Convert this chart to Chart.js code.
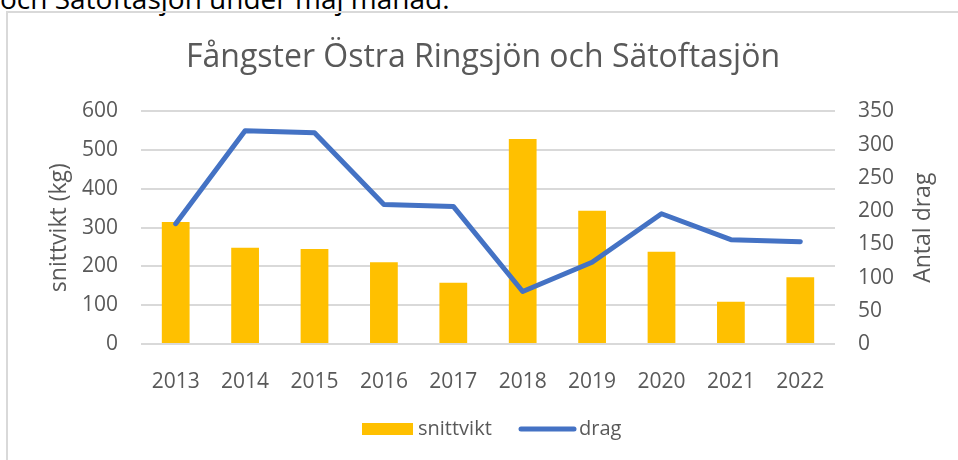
<!DOCTYPE html>
<html>
<head>
<meta charset="utf-8">
<script src="https://cdn.jsdelivr.net/npm/chart.js@4.4.1/dist/chart.umd.min.js"></script>
<style>
  body { margin: 0; background: #fff; width: 958px; height: 460px; overflow: hidden; position: relative; font-family: 'Open Sans', sans-serif; }
  #intro { position: absolute; left: 0; top: -16px; font-size: 28px; line-height: 28px; color: #000; white-space: nowrap; }
  #box { position: absolute; left: 6px; top: 11px; width: 960px; height: 460px; border-top: 2px solid #d9d9d9; border-left: 2px solid #d9d9d9; }
  #wrap { position: absolute; left: 8px; top: 13px; width: 950px; height: 447px; }
</style>
</head>
<body>
<div id="intro">och Sätoftasjön under maj månad.</div>
<div id="box"></div>
<div id="wrap"><canvas id="myChart"></canvas></div>
<script>
const years = ['2013', '2014', '2015', '2016', '2017', '2018', '2019', '2020', '2021', '2022'];
const snittvikt = [315, 248, 245, 211, 158, 529, 344, 238, 109, 172];
const drag = [181, 321, 318, 210, 207, 79, 123, 196, 157, 154];

const grey = '#595959';
const barColor = '#FFC000';
const lineColor = '#4472C4';

// legend and right axis title drawn by hand
const extras = {
  id: 'extras',
  afterDraw(chart) {
    const { ctx, chartArea } = chart;
    ctx.save();
    ctx.font = '20px "Open Sans"';
    ctx.textBaseline = 'middle';
    const y = 416;
    ctx.fillStyle = barColor;
    ctx.fillRect(354, y - 6, 51, 12);
    ctx.fillStyle = grey;
    ctx.fillText('snittvikt', 410, y);
    ctx.beginPath();
    ctx.strokeStyle = lineColor;
    ctx.lineWidth = 5;
    ctx.lineCap = 'round';
    ctx.moveTo(513, y);
    ctx.lineTo(566, y);
    ctx.stroke();
    ctx.fillText('drag', 571, y);

    // "Antal drag" reads bottom to top like the left title
    ctx.translate(915, (chartArea.top + chartArea.bottom) / 2);
    ctx.rotate(-Math.PI / 2);
    ctx.font = '23px "Open Sans"';
    ctx.textAlign = 'center';
    ctx.fillText('Antal drag', 0, 0);
    ctx.restore();
  },
};

const config = {
  type: 'bar',
  data: {
    labels: years,
    datasets: [
      {
        type: 'line',
        label: 'drag',
        data: drag,
        yAxisID: 'y1',
        borderColor: lineColor,
        backgroundColor: lineColor,
        borderWidth: 5,
        borderCapStyle: 'round',
        borderJoinStyle: 'round',
        pointRadius: 0,
        tension: 0,
        order: 0,
      },
      {
        type: 'bar',
        label: 'snittvikt',
        data: snittvikt,
        yAxisID: 'y',
        backgroundColor: barColor,
        categoryPercentage: 0.8,
        barPercentage: 0.5,
        order: 1,
      },
    ],
  },
  options: {
    responsive: true,
    maintainAspectRatio: false,
    animation: false,
    layout: { padding: 0 },
    plugins: {
      legend: { display: false },
      tooltip: { enabled: false },
      title: {
        display: true,
        text: 'Fångster Östra Ringsjön och Sätoftasjön',
        color: grey,
        font: { family: 'Open Sans', size: 32, weight: 'normal' },
        padding: { top: 26, bottom: 34 },
      },
    },
    scales: {
      x: {
        grid: { display: false },
        border: { display: false },
        ticks: { color: grey, font: { family: 'Open Sans', size: 21 }, padding: 17, maxRotation: 0 },
        afterFit(scale) { scale.height = 116; },
      },
      y: {
        position: 'left',
        min: 0,
        max: 600,
        grid: { color: '#d9d9d9', lineWidth: 2, drawTicks: false },
        border: { display: false },
        ticks: { stepSize: 100, color: grey, font: { family: 'Open Sans', size: 21 }, padding: 23 },
        title: { display: true, text: 'snittvikt (kg)', color: grey, font: { family: 'Open Sans', size: 23 }, padding: { top: 38 } },
        afterFit(scale) { scale.width = 133; },
      },
      y1: {
        position: 'right',
        min: 0,
        max: 350,
        grid: { display: false, drawTicks: false },
        border: { display: false },
        ticks: { stepSize: 50, color: grey, font: { family: 'Open Sans', size: 21 }, padding: 23 },
        afterFit(scale) { scale.width = 123; },
      },
    },
  },
  plugins: [extras],
};

const myChart = new Chart(document.getElementById('myChart'), config);
</script>
</body>
</html>
